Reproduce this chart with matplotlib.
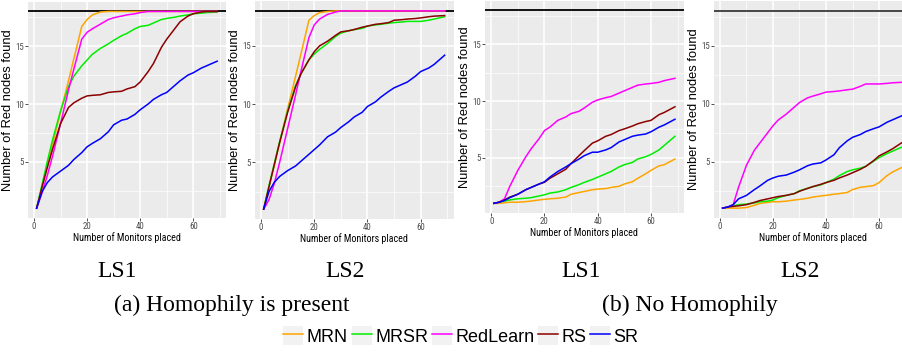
import matplotlib
matplotlib.use("Agg")
import matplotlib.pyplot as plt
from matplotlib import font_manager as fm
from matplotlib.font_manager import FontProperties
from matplotlib.legend_handler import HandlerLine2D
from matplotlib.patches import Rectangle
from matplotlib.lines import Line2D
from matplotlib.ticker import MultipleLocator

# ---------------- data ----------------
x_monitors = [1, 3, 5, 7, 10, 13, 15, 18, 20, 22, 25, 28, 30, 33, 35, 38, 40, 43, 45, 48, 50, 53, 55, 58, 60, 63, 65, 69]
series_names = ["MRN", "MRSR", "RedLearn", "RS", "SR"]
series_colors = ["#FFA500", "#00EE00", "#FF00FF", "#8B0000", "#0000FF"]
total_red = 18
panel_titles = ["LS1", "LS2", "LS1", "LS2"]
group_titles = ["(a) Homophily is present", "(b) No Homophily"]
x_ticks = [0, 20, 40, 60]
y_ticks = [5, 10, 15]

# (a) Homophily is present, LS1
a_ls1_mrn = [1, 2.8, 4.6, 6.5, 9.3, 12.0, 13.9, 16.7, 17.3, 17.7, 17.95, 18, 18, 18, 18, 18, 18, 18, 18, 18, 18, 18, 18, 18, 18, 18, 18, 18]
a_ls1_mrsr = [1, 3.0, 5.0, 6.9, 9.4, 11.5, 12.4, 13.3, 13.8, 14.3, 14.8, 15.2, 15.5, 15.9, 16.1, 16.5, 16.7, 16.8, 17.0, 17.3, 17.4, 17.5, 17.6, 17.7, 17.8, 17.85, 17.9, 17.95]
a_ls1_redlearn = [1, 2.3, 3.8, 5.5, 8.3, 11.2, 13.0, 15.6, 16.2, 16.5, 16.9, 17.3, 17.45, 17.6, 17.7, 17.8, 17.9, 18, 18, 18, 18, 18, 18, 18, 18, 18, 18, 18]
a_ls1_rs = [1, 2.8, 4.5, 6.1, 8.3, 9.7, 10.1, 10.5, 10.7, 10.75, 10.8, 11.0, 11.05, 11.1, 11.3, 11.5, 11.9, 12.8, 13.5, 14.9, 15.6, 16.5, 17.1, 17.6, 17.8, 17.95, 18.0, 18.0]
a_ls1_sr = [1, 2.4, 3.2, 3.7, 4.2, 4.7, 5.2, 5.8, 6.3, 6.6, 7.0, 7.6, 8.2, 8.6, 8.7, 9.1, 9.5, 10.0, 10.4, 10.8, 11.0, 11.6, 12.0, 12.5, 12.7, 13.1, 13.3, 13.7]

# (a) Homophily is present, LS2
a_ls2_mrn = [1, 2.9, 4.8, 6.7, 9.6, 12.4, 14.3, 17.2, 17.6, 17.85, 17.95, 18, 18, 18, 18, 18, 18, 18, 18, 18, 18, 18, 18, 18, 18, 18, 18, 18]
a_ls2_mrsr = [1, 3.0, 4.9, 6.8, 9.4, 11.6, 12.6, 13.8, 14.3, 14.7, 15.2, 15.8, 16.1, 16.3, 16.4, 16.5, 16.7, 16.8, 16.85, 16.95, 17.0, 17.05, 17.1, 17.1, 17.1, 17.2, 17.3, 17.5]
a_ls2_redlearn = [1, 1.8, 3.2, 5.0, 7.9, 10.8, 12.8, 15.7, 16.8, 17.3, 17.7, 17.9, 18, 18, 18, 18, 18, 18, 18, 18, 18, 18, 18, 18, 18, 18, 18, 18]
a_ls2_rs = [1, 2.9, 4.8, 6.7, 9.3, 11.5, 12.6, 13.8, 14.5, 15.0, 15.4, 15.9, 16.2, 16.3, 16.4, 16.6, 16.7, 16.85, 16.9, 17.0, 17.2, 17.25, 17.3, 17.35, 17.4, 17.5, 17.55, 17.6]
a_ls2_sr = [1, 2.5, 3.3, 3.8, 4.3, 4.7, 5.1, 5.7, 6.1, 6.5, 7.2, 7.6, 8.0, 8.5, 8.9, 9.3, 9.8, 10.2, 10.6, 11.1, 11.4, 11.7, 11.9, 12.4, 12.8, 13.1, 13.4, 14.2]

# (b) No Homophily, LS1
b_ls1_mrn = [1, 1.0, 1.05, 1.1, 1.1, 1.15, 1.2, 1.3, 1.35, 1.4, 1.45, 1.55, 1.8, 1.95, 2.05, 2.2, 2.25, 2.3, 2.4, 2.5, 2.7, 2.9, 3.2, 3.6, 3.9, 4.3, 4.4, 4.9]
b_ls1_mrsr = [1, 1.1, 1.2, 1.3, 1.4, 1.45, 1.5, 1.65, 1.75, 1.9, 2.0, 2.2, 2.4, 2.65, 2.85, 3.1, 3.3, 3.6, 3.8, 4.2, 4.4, 4.6, 4.9, 5.1, 5.3, 5.7, 6.1, 6.9]
b_ls1_redlearn = [1, 1.1, 1.4, 2.5, 3.9, 5.1, 5.8, 6.7, 7.4, 7.7, 8.3, 8.6, 8.9, 9.1, 9.4, 9.9, 10.1, 10.3, 10.4, 10.7, 10.9, 11.2, 11.4, 11.5, 11.55, 11.65, 11.8, 12.0]
b_ls1_rs = [1, 1.1, 1.3, 1.55, 1.8, 2.2, 2.4, 2.7, 2.85, 3.2, 3.6, 4.0, 4.5, 5.2, 5.65, 6.3, 6.5, 6.9, 7.05, 7.4, 7.55, 7.8, 8.0, 8.2, 8.3, 8.8, 9.0, 9.5]
b_ls1_sr = [1, 1.1, 1.25, 1.5, 1.8, 2.2, 2.4, 2.7, 2.9, 3.3, 3.8, 4.2, 4.5, 4.9, 5.2, 5.5, 5.5, 5.7, 5.9, 6.4, 6.6, 6.9, 7.0, 7.1, 7.3, 7.7, 7.9, 8.4]

# (b) No Homophily, LS2
b_ls2_mrn = [1, 1.0, 1.0, 1.0, 1.05, 1.25, 1.4, 1.5, 1.55, 1.55, 1.6, 1.7, 1.75, 1.85, 1.95, 2.05, 2.1, 2.2, 2.25, 2.35, 2.6, 2.8, 2.85, 2.95, 3.2, 3.8, 4.1, 4.55]
b_ls2_mrsr = [1, 1.1, 1.2, 1.3, 1.35, 1.45, 1.55, 1.6, 1.7, 1.9, 2.1, 2.25, 2.5, 2.7, 2.85, 3.0, 3.2, 3.5, 3.8, 4.15, 4.3, 4.45, 4.6, 5.05, 5.35, 5.7, 5.9, 6.3]
b_ls2_redlearn = [1, 1.1, 1.3, 2.8, 4.7, 6.0, 6.6, 7.5, 8.1, 8.6, 9.1, 9.7, 10.1, 10.5, 10.65, 10.85, 11.0, 11.05, 11.1, 11.2, 11.25, 11.5, 11.7, 11.7, 11.7, 11.75, 11.8, 11.85]
b_ls2_rs = [1, 1.1, 1.15, 1.2, 1.3, 1.5, 1.65, 1.8, 1.9, 2.0, 2.1, 2.25, 2.45, 2.7, 2.85, 3.05, 3.2, 3.4, 3.6, 3.85, 4.05, 4.35, 4.6, 5.1, 5.5, 5.85, 6.1, 6.7]
b_ls2_sr = [1, 1.1, 1.3, 1.8, 2.1, 2.6, 2.9, 3.4, 3.6, 3.75, 3.85, 4.1, 4.3, 4.65, 4.8, 4.9, 5.15, 5.6, 6.2, 6.8, 7.1, 7.35, 7.6, 7.85, 8.0, 8.4, 8.6, 9.0]

panels = [
    [a_ls1_mrn, a_ls1_mrsr, a_ls1_redlearn, a_ls1_rs, a_ls1_sr],
    [a_ls2_mrn, a_ls2_mrsr, a_ls2_redlearn, a_ls2_rs, a_ls2_sr],
    [b_ls1_mrn, b_ls1_mrsr, b_ls1_redlearn, b_ls1_rs, b_ls1_sr],
    [b_ls2_mrn, b_ls2_mrsr, b_ls2_redlearn, b_ls2_rs, b_ls2_sr],
]

# ---------------- fonts ----------------
def find_condensed():
    regular = [f for f in fm.fontManager.ttflist
               if f.style == "normal" and f.weight in (400, "normal", "regular")]
    prefs = ["Liberation Sans Narrow", "Roboto Condensed", "Open Sans Condensed",
             "Noto Sans Condensed", "DejaVu Sans Condensed"]
    for p in prefs:
        for f in regular:
            if f.name == p:
                return FontProperties(fname=f.fname)
    for f in regular:
        if f.fname.endswith("DejaVuSansCondensed.ttf"):
            return FontProperties(fname=f.fname)
    for f in regular:
        if str(f.stretch) in ("condensed", "semi-condensed") and "Mono" not in f.name \
                and "Serif" not in f.name and "CJK" not in f.name:
            return FontProperties(fname=f.fname)
    return None

narrow = find_condensed()
narrow_found = narrow is not None
if narrow is None:
    narrow = FontProperties(family="Liberation Sans")
sans = FontProperties(family="Liberation Sans")
serif_family = ["Liberation Serif", "DejaVu Serif"]

W, H = 902, 352
fig = plt.figure(figsize=(W / 100, H / 100), dpi=100)
renderer = fig.canvas.get_renderer()

# panel rectangles in pixels: (left, top, right, bottom)
rects = [(27.6, 1.6, 226.2, 218.0), (254.6, 1.0, 453.7, 219.0),
         (484.8, 0.5, 684.0, 213.0), (713.6, 1.0, 911.9, 218.0)]
ylabel_right = [14.0, 241.0, 471.0, 700.0]
target_w = 108.0 if narrow_found else 120.0

for i, (l, t, r, b) in enumerate(rects):
    ax = fig.add_axes([l / W, 1 - b / H, (r - l) / W, (b - t) / H])
    ax.set_facecolor("#EBEBEB")
    for s in ax.spines.values():
        s.set_visible(False)
    ax.set_xlim(-2.4, 72.4)
    ax.set_ylim(0.15, 18.85)
    ax.xaxis.set_major_locator(MultipleLocator(20))
    ax.xaxis.set_minor_locator(MultipleLocator(10))
    ax.set_yticks(y_ticks)
    ax.yaxis.set_minor_locator(MultipleLocator(2.5))
    ax.set_xticks(x_ticks)
    ax.grid(which="major", color="white", lw=1.1)
    ax.grid(which="minor", color="white", lw=0.5)
    ax.set_axisbelow(True)
    ax.tick_params(which="major", length=2.2, width=0.6, color="#333333",
                   labelcolor="#4D4D4D", pad=0.5)
    ax.tick_params(which="minor", length=0)
    for lab in ax.get_xticklabels() + ax.get_yticklabels():
        lab.set_fontproperties(narrow)
        lab.set_fontsize(6.4)
    ax.axhline(total_red, color="black" if i < 3 else "#3A3A3A", lw=1.3, zorder=3)
    for vals, c in zip(panels[i], series_colors):
        ax.plot(x_monitors, vals, color=c, lw=1.1, zorder=4)
    xl = ax.set_xlabel("Number of Monitors placed", fontproperties=narrow, fontsize=8.3)
    w = xl.get_window_extent(renderer).width
    xl.set_fontsize(8.3 * target_w / w)
    ax.set_ylabel("Number of Red nodes found", fontproperties=sans, fontsize=9.3)
    ax.yaxis.set_label_coords((ylabel_right[i] - l) / (r - l), 0.5)
    # place the x title just under the tick labels
    tick_bottom = max(H - tl.get_window_extent(renderer).y0 for tl in ax.get_xticklabels())
    ax.xaxis.set_label_coords(0.5, -(tick_bottom + 1.2 - b) / (b - t))

# captions
cap_x = [117, 345, 581, 800]
for cx, txt in zip(cap_x, panel_titles):
    fig.text(cx / W, 1 - 277 / H, txt, ha="center", va="baseline", family=serif_family, fontsize=17)
for cx, txt in zip([231.5, 690], group_titles):
    fig.text(cx / W, 1 - 311 / H, txt, ha="center", va="baseline", family=serif_family, fontsize=17)


class BoxLine(HandlerLine2D):
    def create_artists(self, legend, orig_handle, xdescent, ydescent, width, height, fontsize, trans):
        bg = Rectangle((-xdescent, -ydescent), width, height, facecolor="#F2F2F2",
                       edgecolor="none", transform=trans)
        arts = super().create_artists(legend, orig_handle, xdescent, ydescent, width, height, fontsize, trans)
        return [bg] + list(arts)


handles = [Line2D([], [], color=c, lw=1.1) for c in series_colors]
fig.legend(handles, series_names, loc="center", bbox_to_anchor=(461 / W, 1 - 336 / H),
           ncol=5, frameon=False, handlelength=1.1, handleheight=1.25, handletextpad=0.2,
           columnspacing=0.2, borderpad=0, prop=FontProperties(family="Liberation Sans", size=13),
           handler_map={Line2D: BoxLine()})

fig.savefig("out.png", dpi=100)
